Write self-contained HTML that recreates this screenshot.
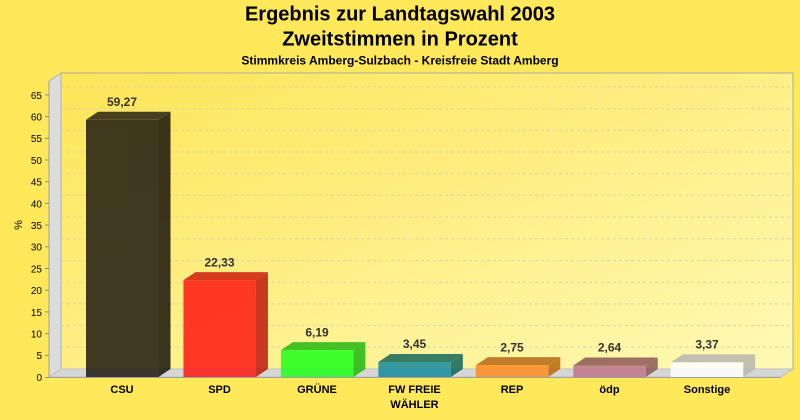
<!DOCTYPE html>
<html><head><meta charset="utf-8"><style>
html,body{margin:0;padding:0;background:#ffe85a;}
svg{display:block;font-family:"Liberation Sans",Arial,sans-serif;}
</style></head><body>
<svg width="800" height="420" viewBox="0 0 800 420" xmlns="http://www.w3.org/2000/svg">
<defs>
<linearGradient id="wall" x1="0" y1="0" x2="1" y2="1">
<stop offset="0" stop-color="#fde557"/>
<stop offset="1" stop-color="#fff9b4"/>
</linearGradient>
</defs>
<rect width="800" height="420" fill="#ffe85a"/>
<text x="400" y="20.5" text-anchor="middle" font-size="20" font-weight="bold" fill="#000">Ergebnis zur Landtagswahl 2003</text>
<text x="400" y="45.5" text-anchor="middle" font-size="20" font-weight="bold" fill="#000">Zweitstimmen in Prozent</text>
<text x="400" y="64.5" text-anchor="middle" font-size="12" font-weight="bold" fill="#000">Stimmkreis Amberg-Sulzbach - Kreisfreie Stadt Amberg</text>

<!-- back wall -->
<rect x="61" y="73" width="732" height="296" fill="url(#wall)" stroke="#aaaaaa" stroke-width="1"/>
<!-- left wall -->
<polygon points="49,81 61,73 61,369 49,377" fill="#dcdcdc" stroke="#b0b0b0" stroke-width="1"/>
<!-- floor -->
<polygon points="49,377 61,369 793,369 781,377" fill="#d6d6d6" stroke="#c0c0c0" stroke-width="1"/>
<line x1="49" y1="377.5" x2="781" y2="377.5" stroke="#a0a0a0" stroke-width="1"/>
<line x1="49" y1="81" x2="49" y2="378" stroke="#a0a0a0" stroke-width="1"/>

<g stroke="#d2d2c8" stroke-width="1" stroke-dasharray="3,3" fill="none">
<line x1="61" y1="347.3" x2="793" y2="347.3"/>
<line x1="61" y1="325.6" x2="793" y2="325.6"/>
<line x1="61" y1="303.9" x2="793" y2="303.9"/>
<line x1="61" y1="282.2" x2="793" y2="282.2"/>
<line x1="61" y1="260.5" x2="793" y2="260.5"/>
<line x1="61" y1="238.8" x2="793" y2="238.8"/>
<line x1="61" y1="217.1" x2="793" y2="217.1"/>
<line x1="61" y1="195.4" x2="793" y2="195.4"/>
<line x1="61" y1="173.7" x2="793" y2="173.7"/>
<line x1="61" y1="152.0" x2="793" y2="152.0"/>
<line x1="61" y1="130.3" x2="793" y2="130.3"/>
<line x1="61" y1="108.6" x2="793" y2="108.6"/>
<line x1="61" y1="86.9" x2="793" y2="86.9"/>
</g>

<!-- ticks -->
<g stroke="#909090" stroke-width="1">
<line x1="45" y1="377.5" x2="49" y2="377.5"/>
<line x1="45" y1="355.3" x2="49" y2="355.3"/>
<line x1="45" y1="333.6" x2="49" y2="333.6"/>
<line x1="45" y1="311.9" x2="49" y2="311.9"/>
<line x1="45" y1="290.2" x2="49" y2="290.2"/>
<line x1="45" y1="268.5" x2="49" y2="268.5"/>
<line x1="45" y1="246.8" x2="49" y2="246.8"/>
<line x1="45" y1="225.1" x2="49" y2="225.1"/>
<line x1="45" y1="203.4" x2="49" y2="203.4"/>
<line x1="45" y1="181.7" x2="49" y2="181.7"/>
<line x1="45" y1="160.0" x2="49" y2="160.0"/>
<line x1="45" y1="138.3" x2="49" y2="138.3"/>
<line x1="45" y1="116.6" x2="49" y2="116.6"/>
<line x1="45" y1="94.9" x2="49" y2="94.9"/>
</g>
<g font-size="10" fill="#000" text-anchor="end">
<text x="42" y="381">0</text>
<text x="42" y="359">5</text>
<text x="42" y="337.5">10</text>
<text x="42" y="315.8">15</text>
<text x="42" y="294.1">20</text>
<text x="42" y="272.4">25</text>
<text x="42" y="250.7">30</text>
<text x="42" y="229">35</text>
<text x="42" y="207.3">40</text>
<text x="42" y="185.6">45</text>
<text x="42" y="163.9">50</text>
<text x="42" y="142.2">55</text>
<text x="42" y="120.5">60</text>
<text x="42" y="98.8">65</text>
</g>
<text x="22" y="225" font-size="11" fill="#000" text-anchor="middle" transform="rotate(-90 22 225)">%</text>

<!-- bars -->
<g opacity="0.86">
<!-- CSU -->
<polygon points="158.5,119.8 170.5,111.8 170.5,369 158.5,377" fill="#1a160c"/>
<polygon points="86,119.8 98,111.8 170.5,111.8 158.5,119.8" fill="#2a2414"/>
<rect x="86" y="119.8" width="72.5" height="257.2" fill="#221c12"/>
<!-- SPD -->
<polygon points="255.95,280.1 267.95,272.1 267.95,369 255.95,377" fill="#c01a10"/>
<polygon points="183.45,280.1 195.45,272.1 267.95,272.1 255.95,280.1" fill="#d01e10"/>
<rect x="183.45" y="280.1" width="72.5" height="96.9" fill="#ff1a13"/>
<!-- GRUENE -->
<polygon points="353.4,350.1 365.4,342.1 365.4,369 353.4,377" fill="#22b810"/>
<polygon points="280.9,350.1 292.9,342.1 365.4,342.1 353.4,350.1" fill="#28b812"/>
<rect x="280.9" y="350.1" width="72.5" height="26.9" fill="#1fff1a"/>
<!-- FW -->
<polygon points="450.85,362.0 462.85,354.0 462.85,369 450.85,377" fill="#10685c"/>
<polygon points="378.35,362.0 390.35,354.0 462.85,354.0 450.85,362.0" fill="#186a5a"/>
<rect x="378.35" y="362.0" width="72.5" height="15" fill="#188b9e"/>
<!-- REP -->
<polygon points="548.3,365.1 560.3,357.1 560.3,369 548.3,377" fill="#b86a10"/>
<polygon points="475.8,365.1 487.8,357.1 560.3,357.1 548.3,365.1" fill="#b86a18"/>
<rect x="475.8" y="365.1" width="72.5" height="11.9" fill="#ff8b23"/>
<!-- oedp -->
<polygon points="645.75,365.5 657.75,357.5 657.75,369 645.75,377" fill="#8e5a5a"/>
<polygon points="573.25,365.5 585.25,357.5 657.75,357.5 645.75,365.5" fill="#8e5a58"/>
<rect x="573.25" y="365.5" width="72.5" height="11.5" fill="#be768b"/>
<!-- Sonstige -->
<polygon points="743.2,362.4 755.2,354.4 755.2,369 743.2,377" fill="#b8b8b0"/>
<polygon points="670.7,362.4 682.7,354.4 755.2,354.4 743.2,362.4" fill="#b8b8b0"/>
<rect x="670.7" y="362.4" width="72.5" height="14.6" fill="#ffffff"/>
</g>

<!-- value labels -->
<g font-size="12" font-weight="bold" fill="#333" text-anchor="middle">
<text x="122" y="106">59,27</text>
<text x="219.5" y="266.5">22,33</text>
<text x="317" y="336.3">6,19</text>
<text x="414.5" y="348.2">3,45</text>
<text x="512" y="351.3">2,75</text>
<text x="609.5" y="351.7">2,64</text>
<text x="707" y="348.6">3,37</text>
</g>

<!-- category labels -->
<g font-size="11" font-weight="bold" fill="#000" text-anchor="middle">
<text x="122" y="393">CSU</text>
<text x="219.5" y="393">SPD</text>
<text x="317" y="393">GRÜNE</text>
<text x="414.5" y="393">FW FREIE</text>
<text x="414.5" y="408">WÄHLER</text>
<text x="512" y="393">REP</text>
<text x="609.5" y="393">ödp</text>
<text x="707" y="393">Sonstige</text>
</g>
</svg>
</body></html>
